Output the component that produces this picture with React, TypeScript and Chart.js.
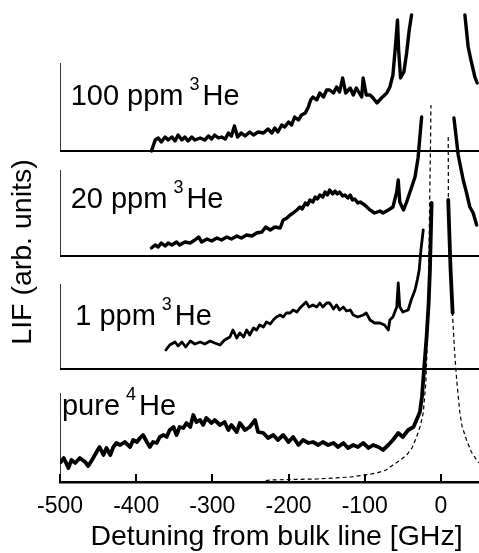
import { useEffect, useRef } from "react";
import { Chart, registerables } from "chart.js";

Chart.register(...registerables);

// ---------- data (x: detuning in GHz, y: LIF in arb. units above each trace's baseline) ----------
const xTickValues = [-500, -400, -300, -200, -100, 0];
const xTitle = "Detuning from bulk line [GHz]";
const yTitle = "LIF (arb. units)";

const panelNames = ["100 ppm", "20 ppm", "1 ppm", "pure"];
const panelIsotopeMass = ["3", "3", "3", "4"];
const isotope = "He";
const panelOffsets = [331, 226, 113, 0];
const panelAxisHeights = [88, 86, 85, 89];

const ppm100X = [-380, -375, -371, -367, -362, -358, -353, -349, -345, -340, -336, -332, -327, -323, -316, -310, -305, -301, -297, -292, -288, -283, -279, -275, -271, -267, -262, -257, -251, -246, -240, -233, -227, -222, -218, -214, -209, -205, -200, -196, -192, -187, -183, -178, -174, -171, -168, -163, -159, -154, -150, -146, -141, -137, -133, -129, -125, -119, -115, -111, -104, -102, -98, -93, -89, -84, -78, -71, -67, -63, -59, -57, -55.5, -53, -48.6, -45, -41.6, -38.5, 0, 31.5, 35.8, 39.4, 44.6, 47.6];
const ppm100Y = [0, 11, 13, 9, 14, 11, 14, 10, 16, 11, 14, 10, 14, 11, 13, 11, 15, 12, 16, 13, 14, 12, 18, 15, 25, 14, 18, 15, 19, 16, 19, 18, 22, 18, 23, 19, 26, 24, 29, 26, 34, 31, 36, 38, 44, 51, 54, 51, 58, 54, 61, 61, 58, 64, 59, 73, 58, 63, 56, 63, 54, 73, 56, 56, 53, 48, 53, 58, 64, 76, 111, 131, 101, 73, 79, 98, 121, 136, null, 136, 104, 91, 74, 68];

const ppm20X = [-380, -375, -371, -367, -362, -358, -353, -347, -343, -336, -329, -323, -318, -314, -307, -301, -294, -288, -281, -275, -268, -262, -255, -248, -242, -235, -230, -224, -218, -211, -207, -202, -198, -194, -189, -185, -182, -178, -175, -172, -168, -165, -162, -159, -155, -152, -149, -146, -142, -139, -136, -133, -129, -126, -122, -119, -116, -113, -109, -106, -100, -93, -87, -80, -76, -69, -63, -58, -56, -54, -49, -45, -41, -34, -30, -27.6, -25.3, 0, 17.1, 19.7, 22.7, 29.3, 33.7, 38, 42.4, 46.9];
const ppm20Y = [8, 11, 9, 13, 10, 13, 11, 14, 11, 14, 13, 16, 19, 14, 17, 15, 18, 16, 19, 17, 20, 18, 21, 20, 23, 24, 29, 26, 29, 28, 36, 38, 41, 43, 46, 49, 47, 53, 51, 56, 54, 59, 57, 61, 59, 64, 61, 66, 62, 65, 62, 64, 60, 61, 58, 61, 56, 57, 53, 54, 51, 46, 43, 45, 43, 46, 49, 64, 76, 54, 46, 54, 63, 79, 98, 119, 139, null, 138, 121, 101, 76, 63, 49, 43, 31];

const ppm1X = [-361, -356, -349, -345, -340, -335, -329, -323, -316, -310, -303, -297, -290, -284, -277, -273, -268, -264, -259, -255, -251, -246, -242, -238, -233, -229, -224, -220, -216, -211, -207, -203, -198, -194, -189, -185, -181, -177, -173, -168, -163, -159, -155, -150, -146, -141, -137, -133, -128, -124, -119, -115, -109, -102, -98, -93, -87, -80, -74, -69, -67, -63, -58, -56, -54, -50, -43, -39, -34, -31, -28.5, -26.2, -23.2];
const ppm1Y = [19, 24, 27, 23, 27, 22, 28, 25, 27, 25, 28, 26, 24, 29, 32, 39, 31, 36, 32, 39, 34, 41, 39, 44, 42, 47, 45, 49, 52, 54, 52, 56, 56, 59, 57, 61, 64, 67, 62, 64, 62, 66, 62, 66, 66, 60, 64, 59, 62, 58, 59, 54, 52, 54, 56, 49, 46, 46, 44, 39, 49, 52, 62, 86, 62, 57, 59, 69, 79, 89, 99, 119, 139];

const pureX = [-499, -495, -489, -485, -480, -474, -467, -463, -458, -452, -448, -443, -439, -434, -430, -426, -421, -415, -408, -404, -399, -395, -391, -386, -382, -378, -373, -369, -364, -360, -356, -351, -347, -343, -338, -334, -329, -325, -321, -316, -312, -308, -301, -297, -290, -284, -279, -275, -268, -264, -257, -251, -244, -240, -233, -227, -220, -214, -207, -200, -194, -187, -181, -174, -168, -161, -155, -148, -141, -135, -128, -122, -115, -109, -102, -95, -89, -82, -76, -69, -63, -56, -50, -43, -36, -32, -27.6, -24.9, -23.2, -18.8, -16.1, -14.4, -12.2, 0, 9.6, 12.7, 15.4];
const pureY = [20, 24, 14, 22, 19, 24, 20, 16, 22, 30, 35, 27, 34, 27, 35, 39, 37, 40, 35, 42, 40, 44, 47, 40, 35, 40, 39, 45, 47, 45, 52, 55, 47, 55, 54, 59, 55, 67, 60, 62, 57, 64, 59, 62, 57, 60, 52, 57, 50, 59, 52, 55, 62, 50, 49, 44, 47, 42, 47, 40, 45, 37, 42, 39, 40, 37, 40, 37, 39, 35, 39, 34, 37, 35, 39, 34, 37, 35, 32, 37, 42, 49, 45, 52, 55, 62, 70, 85, 102, 145, 179, 212, 279, null, 282, 212, 169];

const bulkX = [-230, -224, -200, -163, -140, -119, -100, -84, -72, -63, -55, -45, -38, -32, -27, -23.2, -19.7, -17, -15.5, -14.4, -13.6, -13.1, 0, 9.6, 9.8, 12, 14, 15.4, 18, 20.7, 24.9, 28, 33.7, 40, 46.9, 50];
const bulkY = [1.5, 2, 2.5, 3, 4, 5, 7, 9, 12, 17, 21, 27, 34, 45, 56, 69, 100, 160, 240, 300, 340, 377, null, 345, 282, 230, 190, 165, 130, 102, 69, 55, 42, 30, 22, 19];

const X_MIN = -500;
const X_MAX = 50;
const Y_MAX = 472;

// ---------- helpers ----------
type Pt = { x: number; y: number | null };
const toPoints = (xs: number[], ys: (number | null)[], off: number): Pt[] =>
  xs.map((x, i) => ({ x, y: ys[i] === null ? null : (ys[i] as number) + off }));

const FONT = '"Liberation Sans", Arial, Helvetica, sans-serif';

const overlayPlugin = {
  id: "overlay",
  afterDraw(chart: any) {
    const { ctx, chartArea, scales } = chart;
    const xs = scales.x;
    const ys = scales.y;
    ctx.save();
    // inward tick marks
    ctx.strokeStyle = "#000";
    ctx.lineWidth = 2;
    xs.ticks.forEach((t: any) => {
      const px = Math.round(xs.getPixelForValue(t.value));
      ctx.beginPath();
      ctx.moveTo(px, chartArea.bottom);
      ctx.lineTo(px, chartArea.bottom - 8);
      ctx.stroke();
    });
    // panel labels
    const labelAnchorX = [-486, -486, -480, -497.4];
    const labelAnchorY = [377, 273.7, 157, 67];
    ctx.fillStyle = "#000";
    ctx.textBaseline = "alphabetic";
    ctx.textAlign = "left";
    panelNames.forEach((name, i) => {
      const x0 = xs.getPixelForValue(labelAnchorX[i]);
      const yb = ys.getPixelForValue(labelAnchorY[i]);
      ctx.font = `29px ${FONT}`;
      ctx.fillText(name, x0, yb);
      const w1 = ctx.measureText(name).width;
      const supX = x0 + w1 + 6;
      ctx.font = `18px ${FONT}`;
      ctx.fillText(panelIsotopeMass[i], supX, yb - 15);
      const w2 = ctx.measureText(panelIsotopeMass[i]).width;
      ctx.font = `29px ${FONT}`;
      ctx.fillText(isotope, supX + w2 + 3, yb);
    });
    // axis titles
    ctx.textAlign = "center";
    ctx.textBaseline = "middle";
    ctx.font = `28.5px ${FONT}`;
    ctx.fillText(xTitle, 276.5, 537);
    ctx.translate(23, 252);
    ctx.rotate(-Math.PI / 2);
    ctx.fillText(yTitle, 0, 0);
    ctx.restore();
  },
};

export default function App() {
  const ref = useRef<HTMLCanvasElement | null>(null);

  useEffect(() => {
    document.body.style.margin = "0";
    const canvas = ref.current;
    if (!canvas) return;

    const traceStyle = (w: number) => ({
      borderColor: "#000",
      borderWidth: w,
      pointRadius: 0,
      tension: 0,
      fill: false,
      spanGaps: false,
      borderJoinStyle: "round" as const,
      borderCapStyle: "round" as const,
    });

    const datasets: any[] = [];
    datasets.push({ data: toPoints(pureX, pureY, panelOffsets[3]), ...traceStyle(3.8) });
    datasets.push({ data: toPoints(ppm1X, ppm1Y, panelOffsets[2]), ...traceStyle(2.8) });
    datasets.push({ data: toPoints(ppm20X, ppm20Y, panelOffsets[1]), ...traceStyle(3.4) });
    datasets.push({ data: toPoints(ppm100X, ppm100Y, panelOffsets[0]), ...traceStyle(3.4) });
    datasets.push({
      data: toPoints(bulkX, bulkY, panelOffsets[3]),
      borderColor: "#000",
      borderWidth: 1.2,
      borderDash: [4, 3],
      pointRadius: 0,
      tension: 0,
      fill: false,
      spanGaps: false,
    });
    panelOffsets.forEach((off, i) => {
      if (off > 0) {
        datasets.push({
          data: [{ x: X_MIN, y: off }, { x: X_MAX, y: off }],
          borderColor: "#000",
          borderWidth: 2,
          pointRadius: 0,
          fill: false,
        });
      }
      datasets.push({
        data: [{ x: X_MIN, y: off }, { x: X_MIN, y: off + panelAxisHeights[i] }],
        borderColor: "#000",
        borderWidth: 1.6,
        pointRadius: 0,
        fill: false,
      });
    });

    const chart = new Chart(canvas, {
      type: "line",
      data: { datasets },
      plugins: [overlayPlugin],
      options: {
        animation: false,
        responsive: false,
        devicePixelRatio: 1,
        events: [],
        layout: { padding: { top: 10, left: 0, right: 0, bottom: 0 } },
        plugins: { legend: { display: false }, tooltip: { enabled: false } },
        scales: {
          x: {
            type: "linear",
            min: X_MIN,
            max: X_MAX,
            afterBuildTicks: (s: any) => {
              s.ticks = xTickValues.map((v) => ({ value: v }));
            },
            afterFit: (s: any) => {
              s.height = 71;
            },
            ticks: {
              color: "#000",
              padding: 11,
              font: { family: FONT, size: 23 },
            },
            grid: { display: false, drawTicks: false },
            border: { display: true, color: "#000", width: 2.5 },
            title: { display: false },
          },
          y: {
            type: "linear",
            min: 0,
            max: Y_MAX,
            afterFit: (s: any) => {
              s.width = 60;
            },
            ticks: { display: false },
            grid: { display: false, drawTicks: false },
            border: { display: false },
            title: { display: false },
          },
        },
      } as any,
    });
    return () => chart.destroy();
  }, []);

  return (
    <div style={{ width: 479, height: 553 }}>
      <canvas ref={ref} width={479} height={553} style={{ display: "block" }} />
    </div>
  );
}
